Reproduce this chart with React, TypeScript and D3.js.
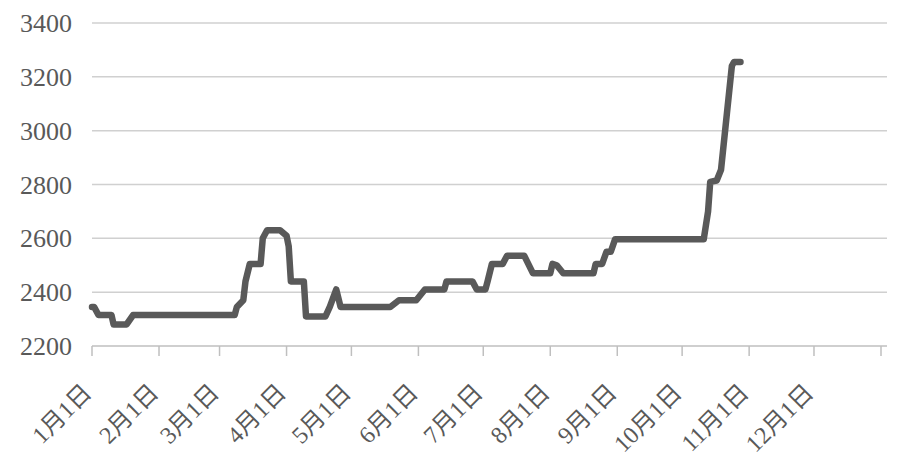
import React from "react";
import * as d3 from "d3";

const dates = [
  "2021-01-01", "2021-01-02", "2021-01-04", "2021-01-10", "2021-01-11", "2021-01-17", "2021-01-20",
  "2021-03-08", "2021-03-09", "2021-03-12", "2021-03-13", "2021-03-15", "2021-03-20", "2021-03-21",
  "2021-03-23", "2021-03-29", "2021-04-01", "2021-04-02", "2021-04-03", "2021-04-09", "2021-04-10",
  "2021-04-19", "2021-04-21", "2021-04-24", "2021-04-26", "2021-05-19", "2021-05-23", "2021-05-31",
  "2021-06-04", "2021-06-13", "2021-06-14", "2021-06-26", "2021-06-28", "2021-07-02", "2021-07-03",
  "2021-07-05", "2021-07-10", "2021-07-12", "2021-07-20", "2021-07-24", "2021-08-01", "2021-08-02",
  "2021-08-04", "2021-08-07", "2021-08-21", "2021-08-22", "2021-08-25", "2021-08-27", "2021-08-29",
  "2021-08-31", "2021-10-11", "2021-10-13", "2021-10-14", "2021-10-17", "2021-10-19", "2021-10-24",
  "2021-10-25", "2021-10-28",
];
const prices = [
  2345, 2345, 2315, 2315, 2280, 2280, 2315,
  2315, 2345, 2370, 2440, 2505, 2505, 2600,
  2630, 2630, 2610, 2570, 2440, 2440, 2310,
  2310, 2345, 2410, 2345, 2345, 2370, 2370,
  2410, 2410, 2440, 2440, 2410, 2410, 2440,
  2505, 2505, 2535, 2535, 2470, 2470, 2505,
  2500, 2470, 2470, 2505, 2505, 2550, 2550,
  2597, 2597, 2700, 2810, 2815, 2855, 3240,
  3255, 3255,
];
const yTicks = [2200, 2400, 2600, 2800, 3000, 3200, 3400];
const monthLabels = ["1月1日", "2月1日", "3月1日", "4月1日", "5月1日", "6月1日", "7月1日", "8月1日", "9月1日", "10月1日", "11月1日", "12月1日"];

export default function App() {
  const W = 900, H = 456;
  const x0 = 92, x1 = 881, xEnd = 887;
  const parse = d3.timeParse("%Y-%m-%d");
  const x = d3.scaleTime().domain([new Date(2021, 0, 1), new Date(2022, 0, 1)]).range([x0, x1]);
  const y = d3.scaleLinear().domain([2200, 3400]).range([346, 23]);
  const pts = dates.map((d, i) => [parse(d) as Date, prices[i]] as [Date, number]);
  const line = d3.line<[Date, number]>().x(d => x(d[0])).y(d => y(d[1]));
  const tickDates = d3.range(13).map(m => new Date(2021, m, 1));
  const font = "'Liberation Serif', 'Noto Sans CJK SC', serif";
  const textColor = "#595959";
  return (
    <svg width={W} height={H} style={{ position: "absolute", left: 0, top: 0, background: "#fff" }}>
      {yTicks.filter(t => t > 2200).map(t => (
        <line key={t} x1={x0} x2={xEnd} y1={y(t)} y2={y(t)} stroke="#d0d0d0" strokeWidth={1.5} />
      ))}
      <line x1={x0} x2={xEnd} y1={y(2200)} y2={y(2200)} stroke="#bfbfbf" strokeWidth={1.5} />
      {tickDates.map((d, i) => (
        <line key={i} x1={x(d)} x2={x(d)} y1={y(2200)} y2={y(2200) + 10} stroke="#bfbfbf" strokeWidth={1.5} />
      ))}
      {yTicks.map(t => (
        <text key={t} x={72} y={y(t)} dy="0.35em" textAnchor="end" fontFamily={font} fontSize={26} fill={textColor}>
          {t}
        </text>
      ))}
      {monthLabels.map((lab, i) => {
        const tx = x(tickDates[i]) + 1;
        const ty = 394;
        return (
          <text key={lab} transform={`translate(${tx},${ty}) rotate(-45)`} textAnchor="end"
            fontFamily={font} fontSize={24} fill={textColor}>
            {lab}
          </text>
        );
      })}
      <path d={line(pts) || ""} fill="none" stroke="#595959" strokeWidth={6.5} strokeLinejoin="round" strokeLinecap="round" />
    </svg>
  );
}
